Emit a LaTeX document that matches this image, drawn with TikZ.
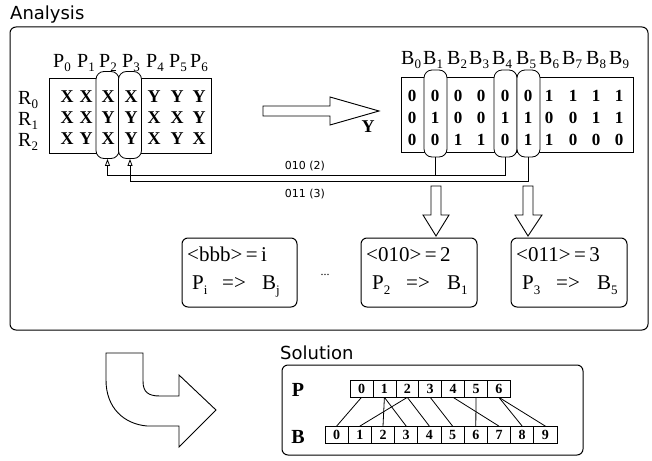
\documentclass[tikz,border=0pt]{standalone}
\usepackage{fontspec}
\setmainfont{Liberation Serif}
\newfontfamily\sansf{DejaVu Sans}
\usetikzlibrary{arrows.meta}
\newcommand\subl[2]{#1\raisebox{-4pt}{\fontsize{13}{13}\selectfont #2}}
\newcommand\subb[2]{#1\raisebox{-5pt}{\fontsize{13}{13}\selectfont #2}}
\tikzset{
  frame/.style={draw, rounded corners=6pt, line width=1pt, inner sep=0},
  oval/.style={draw, fill=white, rounded corners=8pt, line width=0.8pt, minimum width=23pt, minimum height=87pt, inner sep=0},
  mat/.style={draw, line width=0.8pt, inner sep=0},
  cell/.style={font=\fontsize{18}{18}\selectfont\bfseries, inner sep=0},
  bit/.style={font=\fontsize{17}{17}\selectfont\bfseries, inner sep=0},
  hdr/.style={font=\fontsize{20}{20}\selectfont, inner sep=0, anchor=base west},
  title/.style={font=\sansf\fontsize{18}{18}\selectfont, inner sep=0, anchor=base west},
  code/.style={font=\sansf\fontsize{11}{11}\selectfont, inner sep=0},
  boxt/.style={font=\fontsize{21}{21}\selectfont, inner sep=0, anchor=base west},
  pbox/.style={draw, line width=0.7pt, minimum width=22.9pt, minimum height=17pt, inner sep=0, font=\fontsize{14}{14}\selectfont\bfseries},
  conn/.style={line width=0.8pt},
  hollow/.style={line width=0.9pt, line join=miter},
  uptip/.style={{Triangle[open,length=7pt,width=5pt]}-},
}
\begin{document}
\begin{tikzpicture}[x=1pt,y=-1pt]
\useasboundingbox (0,0) rectangle (652,460);
% titles and frames
\node[title] (an) at (10,20) {Analysis};
\node[frame, minimum width=638pt, minimum height=303pt] (ana) at (329,178.5) {};
\node[title] (so) at (280,359) {Solution};
\node[frame, minimum width=301pt, minimum height=90pt] (sol) at (432.5,410) {};

% left matrix
\node[mat, minimum width=162pt, minimum height=75pt] (pm) at (130,115.5) {};
\node[oval] (oP2) at (107.5,115) {};
\node[oval] (oP3) at (130,115) {};
\foreach \x/\v [count=\i from 0] in {53/0,77/1,99/2,122/3,146/4,169/5,190/6}
  \node[hdr] (ph\i) at (\x,67) {\subl{P}{\v}};
\foreach \y/\v [count=\i from 0] in {104/0,125/1,146/2}
  \node[hdr] (rh\i) at (18,\y) {\subl{R}{\v}};
\foreach \x/\v [count=\i from 0] in {67/X,86/X,108/X,131/X,154/Y,177/Y,199/Y}
  \node[cell] (xa\i) at (\x,97) {\v};
\foreach \x/\v [count=\i from 0] in {67/X,86/X,108/Y,131/Y,154/X,177/X,199/Y}
  \node[cell] (xb\i) at (\x,118) {\v};
\foreach \x/\v [count=\i from 0] in {67/X,86/Y,108/X,131/Y,154/X,177/Y,199/X}
  \node[cell] (xc\i) at (\x,139) {\v};

% big arrow
\draw[hollow] (263,106) -- (330,106) -- (330,97) -- (379,111) -- (330,125) -- (330,116) -- (263,116) -- cycle;
\node[cell] (ylab) at (368,127) {Y};

% right matrix
\node[mat, minimum width=232pt, minimum height=75pt] (bm) at (517,114.5) {};
\node[oval] (oB1) at (435.5,113.5) {};
\node[oval] (oB4) at (505.5,113.5) {};
\node[oval] (oB5) at (528.5,113.5) {};
\foreach \x/\v [count=\i from 0] in {401/0,423/1,447/2,469/3,492/4,516/5,539/6,562/7,586/8,609/9}
  \node[hdr] (bh\i) at (\x,64) {\subl{B}{\v}};
\foreach \x/\v [count=\i from 0] in {412/0,435/0,458/0,481/0,505/0,528/0,549/1,573/1,596/1,619/1}
  \node[bit] (ba\i) at (\x,96) {\v};
\foreach \x/\v [count=\i from 0] in {412/0,435/1,458/0,481/0,505/1,528/1,549/0,573/0,596/1,619/1}
  \node[bit] (bb\i) at (\x,118) {\v};
\foreach \x/\v [count=\i from 0] in {412/0,435/0,458/1,481/1,505/0,528/1,549/1,573/0,596/0,619/0}
  \node[bit] (bc\i) at (\x,140) {\v};

% selection lines
\coordinate (L2) at (0,175);
\coordinate (L3) at (0,181);
\draw[conn, uptip] (oP2.south) -- (oP2.south |- L2) -- (oB4.south |- L2) -- (oB4.south);
\draw[conn] (oB1.south) -- (oB1.south |- L2);
\draw[conn, uptip] (oP3.south) -- (oP3.south |- L3) -- (oB5.south |- L3) -- (oB5.south);
\node[code] (c2) at (305,166) {010 (2)};
\node[code] (c3) at (305,194) {011 (3)};

% down arrows
\draw[hollow] (431,186) -- (441,186) -- (441,215) -- (449,215) -- (436,236) -- (423,215) -- (431,215) -- cycle;
\draw[hollow] (523,186) -- (533,186) -- (533,215) -- (542,215) -- (528,236) -- (515,215) -- (523,215) -- cycle;

% result boxes
\node[frame, minimum width=115pt, minimum height=69pt] (bx1) at (239.5,272.5) {};
\node[frame, minimum width=116pt, minimum height=69pt] (bx2) at (419,272.5) {};
\node[frame, minimum width=116pt, minimum height=69pt] (bx3) at (569,272.5) {};
\node[boxt] (t1a) at (187,261) {<bbb>\,=\,i};
\node[boxt] (t1p) at (192,289) {\subb{P}{i}};
\node[boxt] (t1e) at (222,289) {=>};
\node[boxt] (t1b) at (262,289) {\subb{B}{j}};
\node[boxt] (t2a) at (366,261) {<010>\,=\,2};
\node[boxt] (t2p) at (372,289) {\subb{P}{2}};
\node[boxt] (t2e) at (406,289) {=>};
\node[boxt] (t2b) at (447,289) {\subb{B}{1}};
\node[boxt] (t3a) at (516,261) {<011>\,=\,3};
\node[boxt] (t3p) at (522,289) {\subb{P}{3}};
\node[boxt] (t3e) at (556,289) {=>};
\node[boxt] (t3b) at (597,289) {\subb{B}{5}};
\node[font=\fontsize{12}{12}\selectfont, inner sep=0] (dots) at (325,275) {...};

% curved arrow
\draw[hollow] (106,353) -- (143,353) -- (143,381) .. controls (143,392) and (148,396) .. (160,396)
  -- (179,396) -- (179,375) -- (216,410) -- (179,447) -- (179,426) -- (147,426)
  .. controls (124,424) and (106,408) .. (106,380) -- cycle;

% solution
\node[font=\fontsize{20}{20}\selectfont\bfseries, inner sep=0] (lp) at (298,390) {P};
\node[font=\fontsize{20}{20}\selectfont\bfseries, inner sep=0] (lb) at (298,437) {B};
\foreach \i in {0,...,6}
  \node[pbox] (p\i) at ({361.5+22.9*\i},388.5) {\i};
\foreach \i in {0,...,9}
  \node[pbox, minimum width=23.2pt] (b\i) at ({336.6+23.2*\i},435) {\i};
\foreach \a/\b in {0/0,1/2,1/3,2/1,2/4,3/5,4/7,5/6,6/8,6/9}
  \draw[conn] (p\a.south) -- (b\b.north);
\end{tikzpicture}
\end{document}
